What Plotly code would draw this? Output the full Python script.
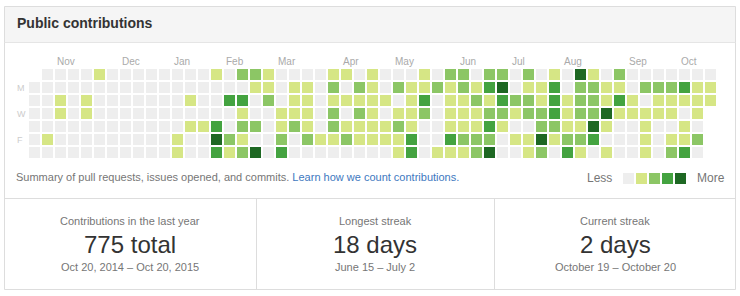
import plotly.graph_objects as go

W, H = 740, 296

# contribution level per weekday row (one char per week, "." = no day)
sun = "." + "00001000000" + "001022100001" + "10100010" + "22022020" + "1041020" + "000000"
mon = "000000000000" + "000001101102" + "02102112" + "12134011" + "3022110" + "222311"
tue = "001010000000" + "100330201101" + "11110130" + "11213221" + "3122131" + "011111"
wed = "001010000000" + "000010011102" + "02101120" + "11122122" + "3122411" + "11101."
thu = "000000000000" + "113022012102" + "11112100" + "11131002" + "2114100" + "10010."
fri = "010000000001" + "004210020211" + "21111300" + "32220114" + "1223000" + "10112."
sat = "000000000001" + "003124030000" + "00001301" + "11240012" + "0310100" + "10230."
weekday_rows = [sun, mon, tue, wed, thu, fri, sat]

months = ["Nov", "Dec", "Jan", "Feb", "Mar", "Apr", "May", "Jun", "Jul", "Aug", "Sep", "Oct"]
month_week = [2, 7, 11, 15, 19, 24, 28, 33, 37, 41, 46, 50]
day_labels = ["M", "W", "F"]
day_rows = [1, 3, 5]
legend_levels = [0, 1, 2, 3, 4]
palette = ["#eeeeee", "#d6e685", "#8cc665", "#44a340", "#1e6823"]

stat_titles = ["Contributions in the last year", "Longest streak", "Current streak"]
stat_values = ["775 total", "18 days", "2 days"]
stat_ranges = ["Oct 20, 2014 – Oct 20, 2015", "June 15 – July 2", "October 19 – October 20"]

FONT = "Liberation Sans, Arial, sans-serif"

z = [[None if ch == "." else int(ch) for ch in row] for row in weekday_rows]
n_weeks = len(sun)

cs = []
for i, c in enumerate(palette):
    cs.append([i / 5, c])
    cs.append([(i + 1) / 5, c])

def px_x(p):
    return p / W

def px_y(p):
    return 1 - p / H

fig = go.Figure()
fig.add_trace(go.Heatmap(
    z=z, x=list(range(n_weeks)), y=list(range(7)),
    colorscale=cs, zmin=-0.5, zmax=4.5, xgap=2, ygap=2,
    showscale=False, hoverinfo="skip", xaxis="x", yaxis="y"))
fig.add_trace(go.Heatmap(
    z=[legend_levels], x=list(range(len(legend_levels))), y=[0],
    colorscale=cs, zmin=-0.5, zmax=4.5, xgap=2, ygap=2,
    showscale=False, hoverinfo="skip", xaxis="x2", yaxis="y2"))

ann = []
ann.append(dict(text="<b>Public contributions</b>", x=px_x(15), y=px_y(23), xref="paper", yref="paper",
                xanchor="left", yanchor="middle", showarrow=False,
                font=dict(size=14, color="#333333", family=FONT)))
for m, wk in zip(months, month_week):
    ann.append(dict(text=m, x=wk - 0.5 + 1 / 13, y=px_y(61), xref="x", yref="paper",
                    xanchor="left", yanchor="middle", showarrow=False,
                    font=dict(size=10, color="#aaaaaa", family=FONT)))
for d, r in zip(day_labels, day_rows):
    ann.append(dict(text=d, x=px_x(15), y=r, xref="paper", yref="y",
                    xanchor="left", yanchor="middle", showarrow=False,
                    font=dict(size=9, color="#cccccc", family=FONT)))
ann.append(dict(text="Summary of pull requests, issues opened, and commits. "
                     "<span style='color:#4078c0'>Learn how we count contributions.</span>",
                x=px_x(14), y=px_y(177), xref="paper", yref="paper",
                xanchor="left", yanchor="middle", showarrow=False,
                font=dict(size=11, color="#767676", family=FONT)))
ann.append(dict(text="Less", x=px_x(614), y=px_y(178), xref="paper", yref="paper",
                xanchor="right", yanchor="middle", showarrow=False,
                font=dict(size=12, color="#767676", family=FONT)))
ann.append(dict(text="More", x=px_x(695), y=px_y(178), xref="paper", yref="paper",
                xanchor="left", yanchor="middle", showarrow=False,
                font=dict(size=12, color="#767676", family=FONT)))
centers = [130, 375, 615]
for cx, t, v, rg in zip(centers, stat_titles, stat_values, stat_ranges):
    ann.append(dict(text=t, x=px_x(cx), y=px_y(221), xref="paper", yref="paper",
                    xanchor="center", yanchor="middle", showarrow=False,
                    font=dict(size=11, color="#767676", family=FONT)))
    ann.append(dict(text=v, x=px_x(cx), y=px_y(244), xref="paper", yref="paper",
                    xanchor="center", yanchor="middle", showarrow=False,
                    font=dict(size=24, color="#333333", family=FONT)))
    ann.append(dict(text=rg, x=px_x(cx), y=px_y(267), xref="paper", yref="paper",
                    xanchor="center", yanchor="middle", showarrow=False,
                    font=dict(size=11, color="#767676", family=FONT)))

shapes = [
    dict(type="rect", xref="paper", yref="paper", x0=px_x(4.5), x1=px_x(735.5), y0=px_y(6.5), y1=px_y(42.5),
         fillcolor="#f5f5f5", line=dict(width=0), layer="below"),
    dict(type="rect", xref="paper", yref="paper", x0=px_x(4.5), x1=px_x(735.5), y0=px_y(6.5), y1=px_y(289.5),
         fillcolor="rgba(0,0,0,0)", line=dict(color="#dddddd", width=1)),
    dict(type="line", xref="paper", yref="paper", x0=px_x(4.5), x1=px_x(735.5), y0=px_y(42.5), y1=px_y(42.5),
         line=dict(color="#e5e5e5", width=1)),
    dict(type="line", xref="paper", yref="paper", x0=px_x(4.5), x1=px_x(735.5), y0=px_y(198.5), y1=px_y(198.5),
         line=dict(color="#dddddd", width=1)),
    dict(type="line", xref="paper", yref="paper", x0=px_x(256.5), x1=px_x(256.5), y0=px_y(198.5), y1=px_y(289.5),
         line=dict(color="#dddddd", width=1)),
    dict(type="line", xref="paper", yref="paper", x0=px_x(494.5), x1=px_x(494.5), y0=px_y(198.5), y1=px_y(289.5),
         line=dict(color="#dddddd", width=1)),
]

fig.update_layout(
    width=W, height=H, margin=dict(l=0, r=0, t=0, b=0),
    paper_bgcolor="white", plot_bgcolor="rgba(0,0,0,0)",
    xaxis=dict(domain=[px_x(28), px_x(28 + 13 * n_weeks)], range=[-0.5, n_weeks - 0.5],
               visible=False, fixedrange=True),
    yaxis=dict(domain=[px_y(68 + 13 * 7), px_y(68)], range=[6.5, -0.5], visible=False, fixedrange=True),
    xaxis2=dict(domain=[px_x(622), px_x(622 + 13 * 5)], range=[-0.5, 4.5], visible=False,
                fixedrange=True, anchor="y2"),
    yaxis2=dict(domain=[px_y(172 + 13), px_y(172)], range=[0.5, -0.5], visible=False,
                fixedrange=True, anchor="x2"),
    annotations=ann, shapes=shapes, showlegend=False,
)
fig.write_html("out.html", config=dict(displayModeBar=False))
